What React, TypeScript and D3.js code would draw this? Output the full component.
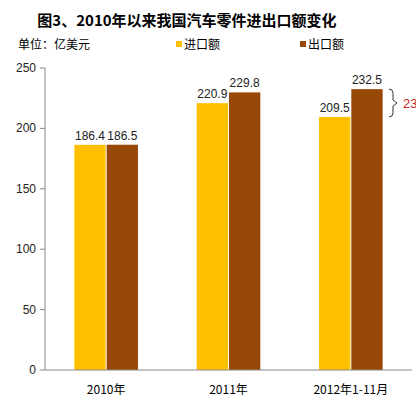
import React from 'react';
import * as d3 from 'd3';

const categories = ['2010年', '2011年', '2012年1-11月'];
const seriesNames = ['进口额', '出口额'];
const importValues = [186.4, 220.9, 209.5];
const exportValues = [186.5, 229.8, 232.5];
const yTicks = [0, 50, 100, 150, 200, 250];

const App: React.FC = () => {
  // ===== layout =====
  const width = 416;
  const height = 399;
  const left = 45;
  const right = 412;
  const top = 68;
  const bottom = 370;

  const yellow = '#FFC000';
  const brown = '#974806';
  const font = '"Liberation Sans", Arial, sans-serif';
  const cjk = '"Noto Sans CJK SC", "Liberation Sans", sans-serif';

  const x = d3.scaleBand<string>().domain(categories).range([left, right]).paddingInner(0.48).paddingOuter(0.24);
  const x1 = d3.scaleBand<string>().domain(seriesNames).range([0, x.bandwidth()]).paddingInner(0.03);
  const y = d3.scaleLinear().domain([0, 250]).range([bottom, top]);

  const series = [importValues, exportValues];
  const colors = [yellow, brown];

  const yHi = y(232.5);
  const yLo = y(209.5);
  const yMid = (yHi + yLo) / 2;

  return (
    <svg width={width} height={height} style={{ position: 'absolute', left: 0, top: 0, background: '#fff' }}>
      {/* title */}
      <text x={187} y={26} textAnchor="middle" fontFamily={cjk} fontSize={15} fontWeight="bold" fill="#000">
        图3、2010年以来我国汽车零件进出口额变化
      </text>
      <text x={18} y={49} fontFamily={cjk} fontSize={12} fill="#000">单位：亿美元</text>

      {/* legend */}
      {seriesNames.map((name, i) => {
        const lx = i === 0 ? 176 : 300;
        return (
          <g key={name}>
            <rect x={lx} y={41} width={6} height={6} fill={colors[i]} />
            <text x={lx + 8} y={49} fontFamily={cjk} fontSize={12} fill="#000">{name}</text>
          </g>
        );
      })}

      {/* y axis */}
      <line x1={left} x2={left} y1={top} y2={bottom} stroke="#888" />
      {yTicks.map(t => (
        <g key={t}>
          <line x1={left - 5} x2={left} y1={y(t)} y2={y(t)} stroke="#888" />
          <text x={left - 9} y={y(t) + 4} textAnchor="end" fontFamily={font} fontSize={12} fill="#222">{t}</text>
        </g>
      ))}

      {/* bars */}
      {categories.map((c, ci) => (
        <g key={c} transform={`translate(${x(c)},0)`}>
          {seriesNames.map((s, si) => {
            const v = series[si][ci];
            const bx = x1(s)!;
            return (
              <g key={s}>
                <rect x={bx} y={y(v)} width={x1.bandwidth()} height={bottom - y(v)} fill={colors[si]} />
                <text x={bx + x1.bandwidth() / 2} y={y(v) - 5} textAnchor="middle" fontFamily={font} fontSize={12} fill="#222">
                  {v.toFixed(1)}
                </text>
              </g>
            );
          })}
        </g>
      ))}

      {/* baseline */}
      <line x1={left} x2={right} y1={bottom} y2={bottom} stroke="#888" />

      {/* category labels */}
      {categories.map(c => (
        <text key={c} x={x(c)! + x.bandwidth() / 2} y={394} textAnchor="middle" fontFamily={cjk} fontSize={12} fill="#000">{c}</text>
      ))}

      {/* bracket + annotation (cut by the right edge, as in the source image) */}
      <path
        d={`M389,${yHi} Q393,${yHi} 393,${yHi + 4} L393,${yMid - 3} L397,${yMid} L393,${yMid + 3} L393,${yLo - 4} Q393,${yLo} 389,${yLo}`}
        fill="none"
        stroke="#333"
        strokeWidth={1}
      />
      <text x={403} y={yMid + 5} fontFamily={font} fontSize={13} fill="#CC2222">23.0</text>
    </svg>
  );
};

export default App;
